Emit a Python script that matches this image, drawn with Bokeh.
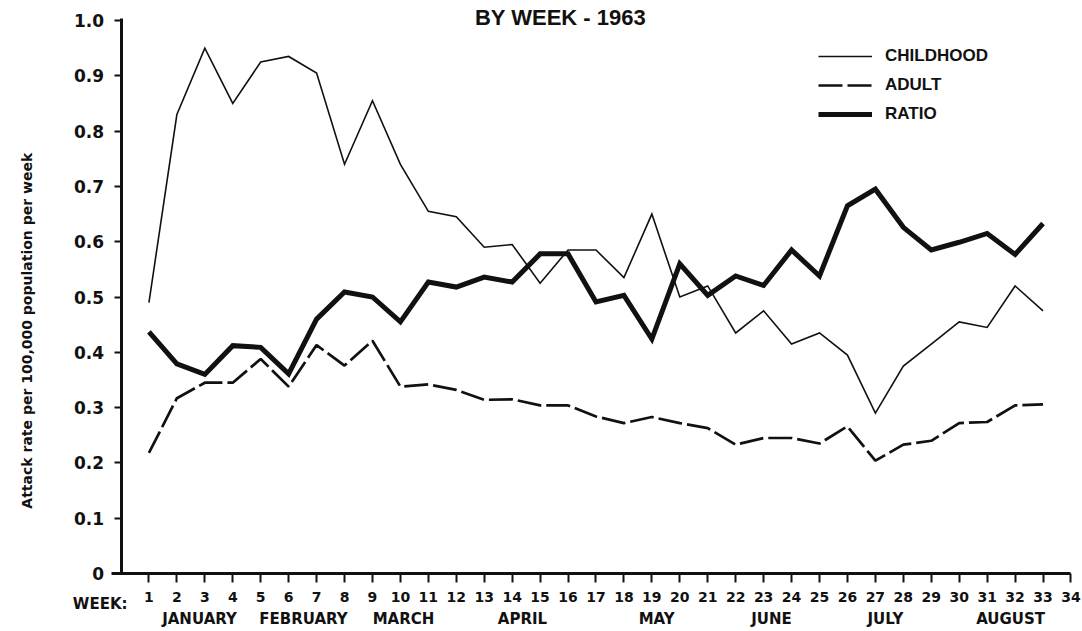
import math
from bokeh.plotting import figure
from bokeh.models import Range1d, FixedTicker, CustomJSTickFormatter, Label, Legend, LegendItem
from bokeh.embed import file_html
from bokeh.resources import INLINE

# ---- data ----
weeks = list(range(1, 34))
childhood = [0.49, 0.83, 0.95, 0.85, 0.925, 0.935, 0.905, 0.74, 0.855, 0.74,
             0.655, 0.645, 0.59, 0.595, 0.525, 0.585, 0.585, 0.535, 0.65, 0.50,
             0.52, 0.435, 0.475, 0.415, 0.435, 0.395, 0.29, 0.375, 0.415, 0.455,
             0.445, 0.52, 0.475]
adult = [0.218, 0.317, 0.345, 0.345, 0.388, 0.338, 0.413, 0.376, 0.421, 0.338,
         0.342, 0.332, 0.314, 0.315, 0.304, 0.304, 0.284, 0.272, 0.283, 0.272,
         0.263, 0.233, 0.245, 0.245, 0.235, 0.266, 0.204, 0.233, 0.24, 0.272,
         0.274, 0.304, 0.306]
ratio = [0.437, 0.379, 0.36, 0.412, 0.409, 0.361, 0.46, 0.509, 0.50, 0.455,
         0.527, 0.518, 0.536, 0.527, 0.578, 0.578, 0.491, 0.503, 0.424, 0.56,
         0.503, 0.538, 0.521, 0.585, 0.538, 0.665, 0.695, 0.626, 0.585, 0.599,
         0.615, 0.577, 0.633]
week_ticks = list(range(1, 35))
y_ticks = [0, 0.1, 0.2, 0.3, 0.4, 0.5, 0.6, 0.7, 0.8, 0.9, 1.0]
months = ["JANUARY", "FEBRUARY", "MARCH", "APRIL", "MAY", "JUNE", "JULY", "AUGUST"]
month_pos = [2.81, 6.53, 10.11, 14.37, 19.17, 23.28, 27.36, 31.84]
series_names = ["CHILDHOOD", "ADULT", "RATIO"]
title_text = "BY WEEK - 1963"
y_label_text = "Attack rate per 100,000 population per week"

INK = "#111111"
W, H = 1082, 631

# the plot area covers the whole canvas; axes are pinned at week 0 / rate 0
p = figure(width=W, height=H, output_backend="svg", toolbar_location=None,
           x_range=Range1d(-4.313, 34.413), y_range=Range1d(-0.1049, 1.0362),
           min_border_left=0, min_border_right=0, min_border_top=0,
           min_border_bottom=0, title=None)
p.outline_line_color = None
p.xgrid.grid_line_color = None
p.ygrid.grid_line_color = None
p.background_fill_color = "white"
p.border_fill_color = "white"

# axes
xa = p.xaxis[0]
xa.fixed_location = 0
xa.bounds = (-0.35, 34)
xa.ticker = FixedTicker(ticks=week_ticks)
xa.axis_line_width = 3
xa.axis_line_color = INK
xa.major_tick_line_width = 2
xa.major_tick_line_color = INK
xa.major_tick_in = 0
xa.major_tick_out = 9
xa.minor_tick_line_color = None
xa.major_label_standoff = 10
xa.major_label_text_font = "DejaVu Sans"
xa.major_label_text_font_style = "bold"
xa.major_label_text_font_size = "14px"
xa.major_label_text_color = INK

ya = p.yaxis[0]
ya.fixed_location = 0
ya.bounds = (0, 1.004)
ya.ticker = FixedTicker(ticks=y_ticks)
ya.formatter = CustomJSTickFormatter(code="return Math.abs(tick) < 1e-9 ? '0' : tick.toFixed(1);")
ya.axis_line_width = 3
ya.axis_line_color = INK
ya.major_tick_line_width = 2
ya.major_tick_line_color = INK
ya.major_tick_in = 0
ya.major_tick_out = 7
ya.minor_tick_line_color = None
ya.major_label_standoff = 10
ya.major_label_text_font = "DejaVu Sans"
ya.major_label_text_font_style = "bold"
ya.major_label_text_font_size = "17px"
ya.major_label_text_color = INK

# lines
r_child = p.line(weeks, childhood, line_color=INK, line_width=1.6, line_join="miter")
r_adult = p.line(weeks, adult, line_color=INK, line_width=2.7, line_dash="24 5")
r_ratio = p.line(weeks, ratio, line_color=INK, line_width=5, line_join="miter")

legend = Legend(items=[LegendItem(label=series_names[0], renderers=[r_child]),
                       LegendItem(label=series_names[1], renderers=[r_adult]),
                       LegendItem(label=series_names[2], renderers=[r_ratio])],
                location=(818, 506))
legend.glyph_width = 54
legend.glyph_height = 22
legend.label_height = 22
legend.label_standoff = 13
legend.spacing = 7
legend.padding = 0
legend.margin = 0
legend.border_line_alpha = 0
legend.background_fill_alpha = 0
legend.label_text_font = "Liberation Sans"
legend.label_text_font_style = "bold"
legend.label_text_font_size = "17px"
legend.label_text_color = INK
p.add_layout(legend)

# month labels
for name, pos in zip(months, month_pos):
    p.add_layout(Label(x=pos, y=-0.082, text=name, text_align="center",
                       text_baseline="alphabetic", text_font="DejaVu Sans",
                       text_font_style="bold", text_font_size="15px", text_color=INK))

p.add_layout(Label(x=0.233, y=-0.056, text="WEEK:", text_align="right",
                   text_baseline="alphabetic", text_font="DejaVu Sans",
                   text_font_style="bold", text_font_size="15px", text_color=INK))

p.add_layout(Label(x=15.73, y=1.0054, text=title_text, text_align="center",
                   text_baseline="alphabetic", text_font="Liberation Sans",
                   text_font_style="bold", text_font_size="22px", text_color=INK))

p.add_layout(Label(x=-3.38, y=0.439, text=y_label_text, angle=math.pi / 2,
                   text_align="center", text_baseline="middle",
                   text_font="DejaVu Sans", text_font_style="bold",
                   text_font_size="14px", text_color=INK))

open("out.html", "w").write(file_html(p, INLINE))
